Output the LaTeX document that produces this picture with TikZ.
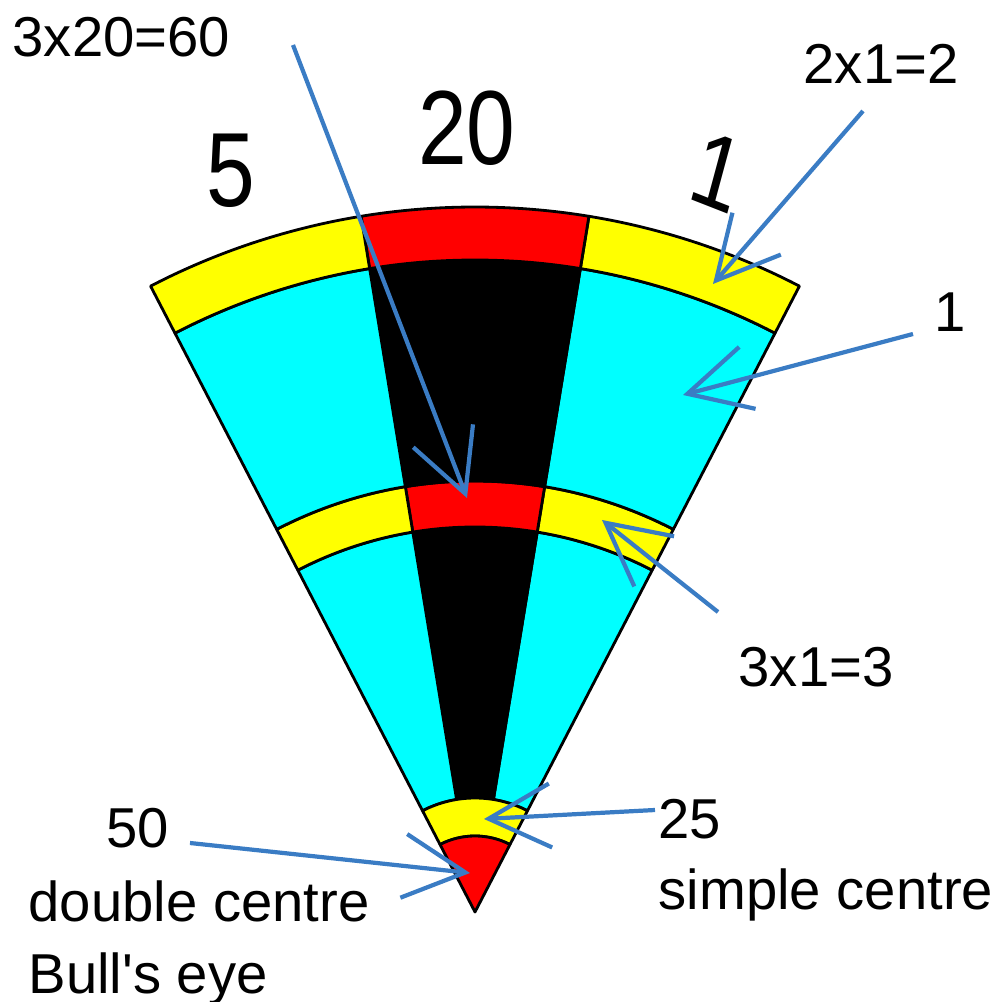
\documentclass[tikz,border=0pt]{standalone}
\usepackage{fontspec}
\setmainfont{Liberation Sans}[Ligatures=TeXOff]
\usetikzlibrary{arrows.meta}
\definecolor{ptrblue}{RGB}{58,124,196}
\definecolor{ringyellow}{RGB}{255,255,0}
\definecolor{ringred}{RGB}{255,0,0}
\definecolor{fieldcyan}{RGB}{0,255,255}

\begin{document}
\begin{tikzpicture}[
  lbl/.style={inner sep=0pt, anchor=base west, align=left, font=\fontsize{16}{20.3}\selectfont},
  num/.style={inner sep=0pt, xscale=0.83, font=\fontsize{30}{36}\selectfont},
  seg/.style={draw=black, line width=0.8pt, line join=round},
  pointer/.style={draw=ptrblue, line width=1.2pt, -{Straight Barb[length=6.2mm,width=6.4mm]}}]

  \useasboundingbox (-4.75,-0.90) rectangle (5.24,9.12);

  % the wedge: inner radius / outer radius / side colour / centre colour
  \foreach \ra/\rb/\colS/\colC in {1.14/3.85/fieldcyan/black, 3.85/4.31/ringyellow/ringred, 4.31/6.52/fieldcyan/black, 6.52/7.05/ringyellow/ringred} {
    \foreach \a/\b/\col in {62.6/80.7/\colS, 80.7/99.3/\colC, 99.3/117.4/\colS} {
      \filldraw[seg, fill=\col] (\a:\ra) arc[start angle=\a, end angle=\b, radius=\ra]
        -- (\b:\rb) arc[start angle=\b, end angle=\a, radius=\rb] -- cycle;
    }
  }
  % bull
  \filldraw[seg, fill=ringyellow] (62.6:0.76) arc[start angle=62.6, end angle=117.4, radius=0.76]
    -- (117.4:1.14) arc[start angle=117.4, end angle=62.6, radius=1.14] -- cycle;
  \filldraw[seg, fill=ringred] (0,0) -- (62.6:0.76) arc[start angle=62.6, end angle=117.4, radius=0.76] -- cycle;

  % sector numbers
  \node[num] (n5) at (-2.44,7.41) {5};
  \node[num] (n20) at (-0.08,7.84) {20};
  \node[num, rotate=-18] (n1) at (2.43,7.40) {1};

  % labels
  \node[lbl] (t60) at (-4.63,8.55) {3x20=60};
  \node[lbl] (t2) at (3.28,8.28) {2x1=2};
  \node[lbl] (t1) at (4.59,5.80) {1};
  \node[lbl] (t3) at (2.63,2.25) {3x1=3};
  \node[lbl] (t25) at (1.83,0.02) {25\\simple centre};
  \node[lbl] (t50) at (-3.69,0.64) {50};
  \node[lbl] (tbull) at (-4.47,-0.81) {double centre\\Bull's eye};

  % arrows
  \coordinate (a60) at (-1.82,8.67);  \coordinate (h60) at (-0.08,4.14);
  \coordinate (a2) at (3.88,8.01);    \coordinate (h2) at (2.38,6.28);
  \coordinate (a1) at (4.38,5.78);    \coordinate (h1) at (2.08,5.17);
  \coordinate (a3) at (2.43,3.00);    \coordinate (h3) at (1.27,3.92);
  \coordinate (a25) at (1.80,1.02);   \coordinate (h25) at (0.09,0.93);
  \coordinate (a50) at (-2.85,0.69);  \coordinate (h50) at (-0.05,0.39);
  \foreach \k in {60,2,1,3,25,50}
    \draw[pointer] (a\k) -- (h\k);
\end{tikzpicture}
\end{document}
